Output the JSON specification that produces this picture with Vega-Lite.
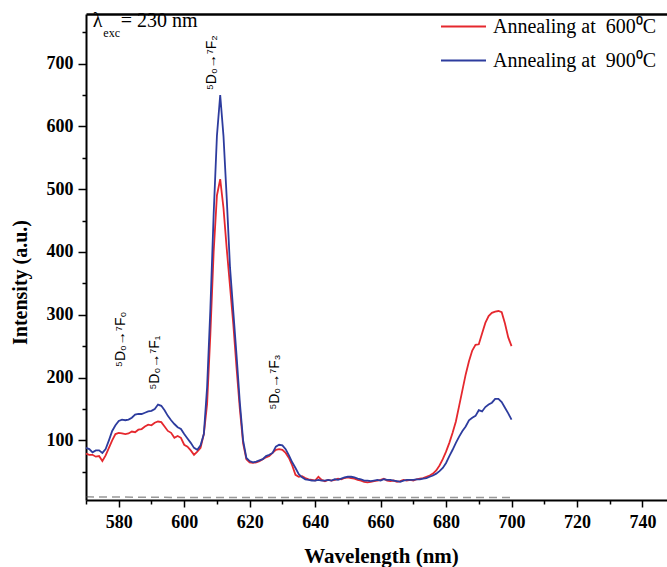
{
  "$schema": "https://vega.github.io/schema/vega-lite/v6.json",
  "autosize": {"type": "none"},
  "padding": {"left": 86, "top": 14, "right": 0, "bottom": 67},
  "width": 581,
  "height": 486,
  "background": "white",
  "config": {
    "view": {"stroke": null},
    "axis": {
      "grid": false,
      "labelFont": "Liberation Serif",
      "labelFontWeight": "bold",
      "labelFontSize": 18,
      "labelColor": "black",
      "titleFont": "Liberation Serif",
      "titleFontWeight": "bold",
      "titleColor": "black",
      "domainColor": "black",
      "domainWidth": 2,
      "tickColor": "black",
      "tickWidth": 1.5
    }
  },
  "resolve": {"axis": {"x": "independent", "y": "independent"}},
  "layer": [
    {
      "data": {"values": [
        {"w":570,"r":79,"b":88},{"w":571,"r":77,"b":86},{"w":572,"r":77,"b":81},{"w":573,"r":74,"b":84},{"w":574,"r":75,"b":84},
        {"w":575,"r":67,"b":80},{"w":576,"r":76,"b":86},{"w":577,"r":88,"b":100},{"w":578,"r":100,"b":115},{"w":579,"r":110,"b":124},
        {"w":580,"r":112,"b":131},{"w":581,"r":111,"b":133},{"w":582,"r":110,"b":132},{"w":583,"r":111,"b":133},{"w":584,"r":114,"b":136},
        {"w":585,"r":113,"b":141},{"w":586,"r":117,"b":142},{"w":587,"r":118,"b":142},{"w":588,"r":122,"b":144},{"w":589,"r":125,"b":146},
        {"w":590,"r":124,"b":147},{"w":591,"r":128,"b":150},{"w":592,"r":130,"b":157},{"w":593,"r":129,"b":155},{"w":594,"r":122,"b":148},
        {"w":595,"r":115,"b":139},{"w":596,"r":112,"b":132},{"w":597,"r":104,"b":126},{"w":598,"r":107,"b":121},{"w":599,"r":104,"b":118},
        {"w":600,"r":93,"b":110},{"w":601,"r":90,"b":103},{"w":602,"r":84,"b":96},{"w":603,"r":77,"b":88},{"w":604,"r":82,"b":85},
        {"w":605,"r":88,"b":92},{"w":606,"r":110,"b":110},{"w":607,"r":158,"b":185},{"w":608,"r":270,"b":310},{"w":609,"r":400,"b":460},
        {"w":610,"r":490,"b":585},{"w":611,"r":516,"b":650},{"w":612,"r":470,"b":585},{"w":613,"r":405,"b":485},{"w":614,"r":345,"b":375},
        {"w":615,"r":285,"b":305},{"w":616,"r":215,"b":235},{"w":617,"r":150,"b":160},{"w":618,"r":95,"b":100},{"w":619,"r":70,"b":72},
        {"w":620,"r":65,"b":67},{"w":621,"r":64,"b":65},{"w":622,"r":65,"b":66},{"w":623,"r":67,"b":68},{"w":624,"r":70,"b":70},
        {"w":625,"r":73,"b":75},{"w":626,"r":75,"b":77},{"w":627,"r":80,"b":80},{"w":628,"r":85,"b":90},{"w":629,"r":86,"b":93},
        {"w":630,"r":85,"b":92},{"w":631,"r":80,"b":86},{"w":632,"r":72,"b":76},{"w":633,"r":60,"b":65},{"w":634,"r":45,"b":56},
        {"w":635,"r":42,"b":46},{"w":636,"r":43,"b":41},{"w":637,"r":40,"b":38},{"w":638,"r":38,"b":37},{"w":639,"r":37,"b":36},
        {"w":640,"r":36,"b":36},{"w":641,"r":42,"b":37},{"w":642,"r":37,"b":36},{"w":643,"r":35,"b":36},{"w":644,"r":37,"b":37},
        {"w":645,"r":36,"b":36},{"w":646,"r":37,"b":38},{"w":647,"r":39,"b":37},{"w":648,"r":38,"b":39},{"w":649,"r":40,"b":41},
        {"w":650,"r":41,"b":42},{"w":651,"r":40,"b":42},{"w":652,"r":39,"b":41},{"w":653,"r":37,"b":39},{"w":654,"r":36,"b":38},
        {"w":655,"r":34,"b":36},{"w":656,"r":33,"b":36},{"w":657,"r":34,"b":35},{"w":658,"r":35,"b":36},{"w":659,"r":36,"b":37},
        {"w":660,"r":37,"b":36},{"w":661,"r":39,"b":38},{"w":662,"r":36,"b":37},{"w":663,"r":35,"b":37},{"w":664,"r":36,"b":36},
        {"w":665,"r":34,"b":35},{"w":666,"r":35,"b":34},{"w":667,"r":37,"b":36},{"w":668,"r":36,"b":37},{"w":669,"r":37,"b":37},
        {"w":670,"r":36,"b":37},{"w":671,"r":38,"b":38},{"w":672,"r":39,"b":38},{"w":673,"r":40,"b":39},{"w":674,"r":42,"b":40},
        {"w":675,"r":44,"b":42},{"w":676,"r":47,"b":44},{"w":677,"r":52,"b":47},{"w":678,"r":60,"b":51},{"w":679,"r":70,"b":56},
        {"w":680,"r":82,"b":64},{"w":681,"r":96,"b":75},{"w":682,"r":112,"b":85},{"w":683,"r":130,"b":96},{"w":684,"r":155,"b":106},
        {"w":685,"r":180,"b":115},{"w":686,"r":205,"b":122},{"w":687,"r":226,"b":132},{"w":688,"r":243,"b":136},{"w":689,"r":252,"b":139},
        {"w":690,"r":253,"b":148},{"w":691,"r":270,"b":146},{"w":692,"r":287,"b":153},{"w":693,"r":298,"b":157},{"w":694,"r":303,"b":160},
        {"w":695,"r":305,"b":166},{"w":696,"r":306,"b":166},{"w":697,"r":304,"b":161},{"w":698,"r":286,"b":152},{"w":699,"r":264,"b":143},
        {"w":700,"r":250,"b":133}
      ]},
      "transform": [{"fold": ["r", "b"], "as": ["s", "v"]}],
      "mark": {"type": "line", "strokeWidth": 1.8},
      "encoding": {
        "x": {"field": "w", "type": "quantitative",
          "scale": {"domain": [570, 747.5], "nice": false, "zero": false},
          "axis": {"orient": "bottom", "values": [580,600,620,640,660,680,700,720,740], "tickSize": 7, "labelPadding": 6,
            "title": "Wavelength (nm)", "titleFontSize": 21, "titleBaseline": "alphabetic", "titleY": 62, "titleX": 295, "titleAnchor": null}},
        "y": {"field": "v", "type": "quantitative",
          "scale": {"domain": [5, 779], "nice": false, "zero": false},
          "axis": {"orient": "left", "values": [100,200,300,400,500,600,700], "tickSize": 8, "labelPadding": 5,
            "title": "Intensity (a.u.)", "titleFontSize": 20, "titleAngle": 270, "titleBaseline": "alphabetic", "titleAlign": "center",
            "titleX": -60, "titleY": 268}},
        "color": {"field": "s", "type": "nominal",
          "scale": {"domain": ["r", "b"], "range": ["#e5282e", "#2d3c9e"]},
          "legend": {"orient": "none", "legendX": 354, "legendY": -11, "title": null, "padding": 0,
            "symbolType": "stroke", "symbolSize": 2025, "symbolStrokeWidth": 2, "labelOffset": 6, "rowPadding": -9,
            "labelFont": "Liberation Serif", "labelFontSize": 20, "labelColor": "black", "labelLimit": 400,
            "labelExpr": "datum.value == 'r' ? 'Annealing at\u2002600\u2070C' : 'Annealing at\u2002900\u2070C'"}}
      }
    },
    {
      "data": {"values": [{"w":570,"k":10},{"w":600,"k":9},{"w":640,"k":9},{"w":700,"k":9}]},
      "mark": {"type": "line", "strokeWidth": 1.5, "color": "#444444", "opacity": 0.55, "strokeDash": [8, 5]},
      "encoding": {
        "x": {"field": "w", "type": "quantitative",
          "scale": {"domain": [570, 747.5], "nice": false, "zero": false},
          "axis": {"orient": "bottom", "values": [570,590,610,630,650,670,690,710,730,750], "tickSize": 4, "labels": false, "domain": false, "title": null}},
        "y": {"field": "k", "type": "quantitative",
          "scale": {"domain": [5, 779], "nice": false, "zero": false},
          "axis": {"orient": "left", "values": [50,150,250,350,450,550,650,750], "tickSize": 4, "labels": false, "domain": false, "title": null}}
      }
    },
    {
      "data": {"values": [
        {"w":580.7,"i":217,"t":"\u2075D\u2080\u2192\u2077F\u2080"},
        {"w":591.1,"i":181,"t":"\u2075D\u2080\u2192\u2077F\u2081"},
        {"w":608.5,"i":658,"t":"\u2075D\u2080\u2192\u2077F\u2082"},
        {"w":627.7,"i":149,"t":"\u2075D\u2080\u2192\u2077F\u2083"}
      ]},
      "mark": {"type": "text", "angle": 270, "align": "left", "baseline": "middle", "font": "Liberation Sans", "fontSize": 14, "color": "black"},
      "encoding": {
        "x": {"field": "w", "type": "quantitative",
          "scale": {"domain": [570, 747.5], "nice": false, "zero": false},
          "axis": {"orient": "top", "ticks": false, "labels": false, "domain": true, "domainWidth": 2.5, "title": null}},
        "y": {"field": "i", "type": "quantitative",
          "scale": {"domain": [5, 779], "nice": false, "zero": false}, "axis": null},
        "text": {"field": "t"}
      }
    },
    {
      "data": {"values": [
        {"w":572.1,"i":758.6,"t":"\u03bb"},
        {"w":580.6,"i":758.6,"t":"= 230 nm"}
      ]},
      "mark": {"type": "text", "align": "left", "baseline": "alphabetic", "font": "Liberation Serif", "fontSize": 20, "color": "black"},
      "encoding": {
        "x": {"field": "w", "type": "quantitative", "scale": {"domain": [570, 747.5], "nice": false, "zero": false}, "axis": null},
        "y": {"field": "i", "type": "quantitative", "scale": {"domain": [5, 779], "nice": false, "zero": false}, "axis": null},
        "text": {"field": "t"}
      }
    },
    {
      "data": {"values": [{"w":575.3,"i":742,"t":"exc"}]},
      "mark": {"type": "text", "align": "left", "baseline": "alphabetic", "font": "Liberation Serif", "fontSize": 12, "color": "black"},
      "encoding": {
        "x": {"field": "w", "type": "quantitative", "scale": {"domain": [570, 747.5], "nice": false, "zero": false}, "axis": null},
        "y": {"field": "i", "type": "quantitative", "scale": {"domain": [5, 779], "nice": false, "zero": false}, "axis": null},
        "text": {"field": "t"}
      }
    }
  ]
}
